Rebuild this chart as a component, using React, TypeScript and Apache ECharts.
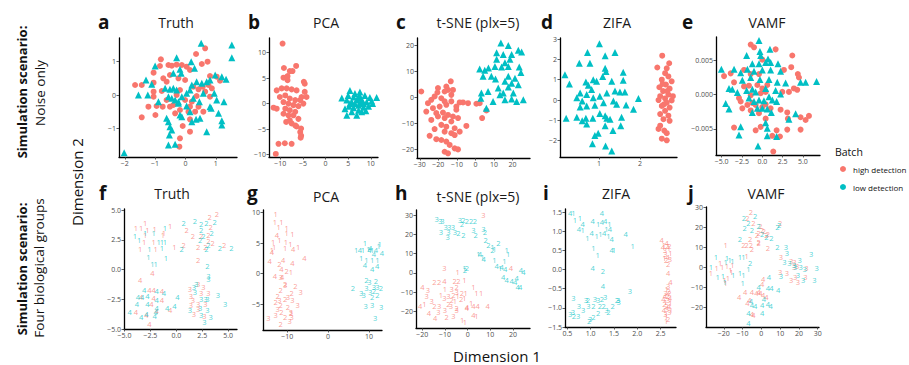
import React, { useEffect, useRef } from "react";
import * as echarts from "echarts";

const RED = "#F8766D";
const TEAL = "#00BFC4";
const RED_T = "rgba(248,118,109,0.9)";
const TEAL_T = "rgba(0,191,196,0.9)";
const FONT = '"Open Sans", "Noto Sans", sans-serif';

// ---------- Panel a: Truth (noise only) ----------
const aHigh = [[-0.81,1.07],[-0.84,0.87],[-0.56,0.9],[-0.45,0.88],[-0.29,0.91],[-0.12,0.9],[0.04,0.85],[0.15,0.75],[0.35,1.23],[0.65,1.4],[0.54,0.93],[0.73,1.0],[-1.05,0.67],[-0.73,0.5],[-1.05,0.37],[-1.66,0.3],[-1.44,0.3],[-1.05,0.1],[-1.05,-0.05],[-1.22,-0.35],[-0.95,-0.33],[-0.75,-0.35],[-1.44,-0.67],[-0.99,-0.6],[-0.62,0.4],[-0.51,0.6],[-0.23,0.5],[-0.01,0.45],[0.26,0.25],[0.43,0.17],[0.57,0.25],[0.76,0.3],[0.81,0.57],[1.03,0.55],[1.14,0.43],[0.87,0.2],[0.65,0.1],[0.81,-0.05],[0.37,-0.03],[0.21,-0.2],[-0.01,-0.15],[0.15,-0.35],[0.43,-0.35],[0.59,-0.5],[0.32,-0.5],[0.1,-0.5],[-0.18,-0.45],[-0.34,-0.55],[-0.51,-0.35],[-0.4,-0.3],[0.15,-0.73],[-0.09,-0.93],[0.15,-1.1],[-0.18,-1.3],[-0.2,-1.55],[-0.78,0.12],[-0.62,-0.15],[-0.29,0.0],[-0.18,0.15]];
const aLow = [[0.52,1.55],[1.53,1.5],[1.53,1.12],[-0.29,1.12],[0.19,1.0],[-1.0,0.87],[-0.18,0.77],[-0.4,0.65],[-0.14,0.65],[0.3,0.8],[-1.3,0.45],[-1.11,0.32],[-1.55,0.0],[-1.24,0.0],[-0.89,-0.2],[-0.67,0.2],[-0.51,0.17],[-0.4,0.2],[-0.29,0.15],[-0.56,-0.05],[-0.45,-0.1],[-0.34,-0.15],[-0.23,-0.2],[-0.12,-0.05],[0.04,0.05],[0.15,0.15],[0.21,0.3],[0.37,0.4],[0.54,0.35],[0.7,0.4],[0.81,0.45],[0.98,0.6],[1.2,0.55],[1.34,0.47],[0.95,0.05],[1.03,-0.15],[1.27,-0.2],[0.81,-0.35],[0.85,-0.4],[1.09,-0.55],[1.2,-0.77],[1.2,-0.9],[0.7,-1.1],[0.35,-0.73],[0.21,-0.8],[0.48,-0.7],[0.15,-0.5],[0.04,-0.33],[-0.18,-0.6],[-0.12,-0.65],[-0.62,-0.7],[-0.56,-0.8],[-0.51,-0.95],[-0.45,-1.05],[-0.53,-1.2],[-0.56,-1.5],[-0.34,-1.48],[-2.02,-1.73],[-0.23,-0.25],[0.26,-0.1],[0.46,-0.2],[0.59,0.05]];
const aXTicks = [-2, -1, 0, 1];
const aYTicks = [-1, 0, 1];

// ---------- Panel b: PCA (noise only) ----------
const bHigh = [[-9.5,11.8],[-9.2,7.0],[-6.5,7.4],[-7.9,6.4],[-7.3,6.4],[-9.3,5.1],[-8.4,5.4],[-8.4,4.6],[-4.8,4.3],[-4.6,3.9],[-10.8,2.6],[-9.7,3.0],[-8.6,3.0],[-7.5,2.8],[-6.4,2.6],[-4.6,2.3],[-4.2,1.3],[-5.3,1.3],[-5.6,0.7],[-8.9,1.6],[-10.1,1.3],[-7.9,1.0],[-6.7,0.7],[-9.3,0.3],[-8.2,0.0],[-7.1,-0.3],[-6.0,-0.5],[-4.9,0.0],[-11.5,-0.8],[-10.8,-1.0],[-8.9,-1.0],[-7.9,-1.3],[-6.7,-1.6],[-8.2,-2.3],[-7.1,-2.3],[-9.3,-2.0],[-6.0,-3.0],[-8.7,-3.6],[-7.5,-3.9],[-6.4,-4.5],[-5.4,-4.9],[-5.6,-5.6],[-5.4,-6.3],[-5.5,-6.7],[-10.4,-7.9],[-9.0,-7.8],[-7.5,-7.9],[-11.0,-9.9],[-7.9,-3.3],[-6.7,-4.3]];
const bLow = [[3.6,1.1],[5.4,2.6],[6.5,2.0],[7.6,2.3],[8.7,1.6],[9.8,1.2],[11.3,1.2],[4.7,0.7],[5.8,0.3],[6.9,0.7],[8.0,0.8],[9.1,0.3],[10.2,0.5],[5.2,-0.5],[6.2,-0.8],[7.3,-0.3],[8.4,-0.7],[9.5,-0.5],[4.7,-2.3],[5.8,-1.6],[6.9,-2.3],[8.0,-1.6],[8.9,-1.4],[4.3,-1.0],[7.6,1.4],[6.2,1.3],[10.4,0.0],[5.4,0.0],[6.5,0.0],[7.8,0.1],[5.0,1.6],[7.3,1.2],[8.4,0.0],[7.3,-1.3]];
const bXTicks = [-10, -5, 0, 5, 10];
const bYTicks = [-10, -5, 0, 5, 10];

// ---------- Panel c: t-SNE (noise only) ----------
const cHigh = [[-29.2,2.3],[-20.2,3.6],[-20.5,1.9],[-15.7,4.2],[-13.3,6.2],[-14.8,2.9],[-16.6,2.3],[-12.1,2.9],[-22.0,0.4],[-18.4,-0.3],[-23.8,-0.9],[-25.6,-2.2],[-26.5,-5.4],[-22.9,-4.1],[-19.3,-3.5],[-15.7,-2.8],[-13.0,-1.5],[-10.3,-3.5],[-8.5,-1.9],[-6.7,-1.9],[-4.0,-2.2],[0.5,-2.4],[2.3,-2.2],[5.9,-5.0],[3.6,-7.9],[-23.8,-8.6],[-20.2,-7.3],[-16.6,-7.9],[-14.8,-6.7],[-12.1,-7.3],[-9.4,-7.9],[-18.4,-10.5],[-22.0,-12.1],[-15.7,-11.2],[-13.0,-9.2],[-11.2,-11.8],[-4.9,-10.9],[-16.6,-13.1],[-13.0,-13.7],[-11.2,-14.4],[-24.7,-14.7],[-21.1,-16.0],[-18.4,-16.3],[-15.7,-16.9],[-13.9,-18.2],[-11.2,-19.5],[-9.4,-19.9],[-16.6,-20.8],[-14.8,-21.4],[-10.3,-4.7],[-17.5,-5.8],[-21.1,-6.0],[-13.0,1.0],[-16.6,-1.5],[-8.5,-13.1]];
const cLow = [[13.7,20.9],[17.7,19.9],[23.1,18.1],[24.9,17.4],[11.4,17.1],[15.0,16.5],[19.5,16.5],[18.6,14.7],[11.4,14.7],[10.5,11.9],[7.0,11.3],[2.3,10.9],[5.0,10.4],[14.1,11.7],[17.7,11.9],[23.6,11.7],[24.5,9.6],[4.1,8.1],[8.6,8.1],[10.8,7.1],[15.9,6.2],[19.5,5.5],[23.1,4.9],[17.7,4.0],[12.3,3.6],[6.8,2.3],[3.2,1.7],[2.9,-0.3],[15.0,1.7],[20.4,1.7],[25.8,-0.9],[9.5,-1.5],[15.9,-0.9],[19.5,-0.6],[5.9,-4.1],[22.2,-1.5],[13.2,1.0],[17.7,8.1],[21.3,7.4],[15.9,13.3]];
const cXTicks = [-30, -20, -10, 0, 10, 20];
const cYTicks = [-20, -10, 0, 10, 20];

// ---------- Panel d: ZIFA (noise only) ----------
const dHigh = [[2.54,2.18],[2.42,1.6],[2.71,1.81],[2.65,1.56],[2.61,1.32],[2.69,1.16],[2.53,1.0],[2.77,0.92],[2.47,0.63],[2.63,0.76],[2.72,0.56],[2.56,0.44],[2.69,0.27],[2.49,0.19],[2.61,0.08],[2.77,-0.02],[2.45,0.0],[2.65,-0.13],[2.53,-0.29],[2.72,-0.37],[2.61,-0.53],[2.49,-0.69],[2.69,-0.77],[2.57,-0.94],[2.72,-1.02],[2.49,-1.26],[2.45,-1.42],[2.59,-1.5],[2.65,-1.63],[2.53,-1.9],[2.65,-1.98],[2.8,0.19],[2.55,0.79],[2.66,0.44],[2.58,-0.21]];
const dLow = [[1.01,2.77],[0.72,2.34],[1.39,2.34],[0.52,1.81],[0.78,1.81],[1.15,2.18],[0.17,1.24],[0.28,0.79],[1.15,1.56],[1.17,1.4],[1.59,1.37],[0.86,1.0],[0.94,0.92],[0.68,0.89],[0.74,0.73],[1.09,1.16],[1.31,0.92],[1.59,0.97],[0.82,0.52],[0.54,0.35],[0.46,0.11],[0.59,-0.05],[0.7,0.27],[0.86,0.11],[1.02,0.19],[1.19,0.35],[1.39,0.44],[1.51,0.4],[1.63,0.4],[1.35,-0.05],[1.43,-0.21],[1.66,-0.24],[1.11,-0.13],[0.9,-0.26],[0.7,-0.29],[0.54,-0.34],[1.96,0.08],[1.84,-0.45],[0.2,-0.89],[0.46,-0.85],[0.59,-1.02],[0.7,-1.18],[0.68,-0.89],[0.85,-0.89],[1.15,-0.77],[1.19,-0.89],[1.27,-0.94],[1.55,-0.85],[1.53,-1.26],[1.15,-1.26],[1.02,-0.66],[1.34,-1.5],[0.9,-1.74],[0.98,-1.63],[0.84,-2.15],[1.16,-2.26],[1.31,-2.5]];
const dXTicks = [1, 2];
const dYTicks = [-2, -1, 0, 1, 2, 3];

// ---------- Panel e: VAMF (noise only) ----------
const eHigh = [[-1.43,0.0073],[-1.02,0.0069],[1.64,0.0066],[3.69,0.0057],[0.0,0.0051],[-2.25,0.0036],[-4.71,0.0027],[-3.89,0.0031],[-3.48,0.0018],[-1.43,0.003],[-0.41,0.003],[2.66,0.0036],[3.56,0.004],[4.37,0.003],[4.51,0.0025],[4.3,0.0007],[3.89,0.0009],[3.28,0.0004],[2.46,0.0004],[-2.25,0.0012],[-1.64,0.0013],[-0.61,0.0014],[0.0,0.0009],[0.41,0.0004],[-0.2,0.0002],[-2.87,-0.0005],[-2.66,-0.001],[-2.46,-0.002],[-1.84,-0.0015],[-1.43,-0.0023],[-1.23,-0.0012],[-0.82,-0.0015],[-0.41,-0.0027],[0.0,-0.0018],[0.41,-0.0014],[1.02,-0.002],[3.07,-0.0026],[3.15,-0.0035],[4.71,-0.0033],[5.33,-0.0037],[5.74,-0.0031],[4.71,-0.0051],[3.07,-0.0051],[1.76,-0.0052],[-3.48,-0.0048],[-0.82,-0.0052],[-0.2,-0.0047],[1.23,-0.006],[2.17,-0.0061],[1.35,-0.0083],[0.41,-0.0035],[2.25,-0.0022],[-1.43,-0.0001],[0.61,0.0014]];
const eLow = [[-0.41,0.0079],[-0.29,0.0063],[0.94,0.0066],[-1.93,0.0057],[-0.2,0.0057],[0.7,0.0052],[-1.23,0.0045],[-0.41,0.0045],[0.41,0.0047],[1.02,0.0047],[1.93,0.0045],[-5.04,0.0037],[-3.48,0.0037],[-2.66,0.0032],[-1.84,0.0037],[-1.02,0.0034],[0.0,0.0036],[1.02,0.0036],[2.25,0.0034],[4.71,0.0018],[5.33,0.0018],[6.68,0.0019],[-2.46,0.0021],[-1.43,0.0025],[-0.29,0.0022],[0.82,0.0022],[1.84,0.0018],[2.87,0.0017],[-4.1,0.0009],[-3.69,0.0008],[-3.07,0.0003],[-1.93,0.0006],[-1.23,0.0008],[-0.82,0.0004],[0.41,0.0009],[1.64,0.0006],[2.25,0.0001],[-4.51,-0.0013],[-4.1,-0.0021],[-1.64,-0.0005],[-1.02,-0.001],[-0.41,-0.0008],[0.2,-0.0009],[0.82,-0.0003],[1.23,-0.0008],[1.76,-0.001],[-0.61,-0.002],[0.0,-0.002],[0.61,-0.0021],[1.11,-0.0026],[-1.23,-0.0026],[4.1,-0.0028],[3.28,-0.0036],[0.41,-0.0041],[0.61,-0.0049],[0.61,-0.006],[-2.66,-0.0047],[-2.87,-0.0059],[1.76,-0.0061],[-0.53,-0.0075]];
const eXTicks = [-5, -2.5, 0, 2.5, 5];
const eYTicks = [-0.005, 0, 0.005];

// ---------- Panel f: Truth (four groups) [x, y, group] ----------
const fHigh = [[-3.0,3.9,1],[-3.4,3.5,1],[-2.8,3.3,1],[-2.1,3.4,1],[-1.2,3.1,1],[-0.6,3.7,1],[-3.1,2.3,1],[-2.2,2.3,1],[-3.5,1.7,1],[-2.0,1.7,1],[-3.9,3.5,1],[-1.3,2.9,1],[-0.2,1.9,1],[-3.0,2.9,1],
  [1.0,3.3,2],[1.6,2.8,2],[2.4,2.8,2],[3.1,2.9,2],[3.3,3.6,2],[3.9,4.7,2],[3.2,4.4,2],[0.7,2.1,2],[2.1,1.9,2],[2.8,1.9,2],[3.1,2.4,2],[3.5,2.2,2],[4.6,2.1,2],[2.1,0.8,2],
  [1.3,-1.6,3],[2.1,-1.2,3],[2.6,-1.5,3],[1.4,-2.2,3],[1.6,-2.6,3],[3.1,-2.0,3],[2.1,-2.9,3],[1.4,-3.0,3],[2.1,-3.3,3],[2.8,-2.9,3],[2.7,-3.9,3],[1.7,-3.7,3],[2.4,-2.0,3],
  [-2.3,-0.3,4],[-3.5,-0.9,4],[-2.6,-1.7,4],[-2.2,-1.7,4],[-1.4,-1.8,4],[-3.4,-2.3,4],[-2.2,-2.4,4],[-1.4,-2.6,4],[-0.6,-3.4,4],[-3.9,-3.6,4],[-2.9,-3.8,4],[-1.9,-3.5,4],[-2.6,-4.6,4],[-2.4,-2.9,4]];
const fLow = [[-4.0,2.8,1],[-3.6,2.5,1],[-3.0,3.1,1],[-2.2,3.1,1],[-1.7,2.3,1],[-1.4,2.3,1],[-1.1,3.5,1],[-1.1,2.3,1],[-2.6,1.7,1],[-1.4,1.8,1],[-2.7,1.1,1],[-2.3,0.5,1],[-2.0,0.5,1],[-1.0,1.0,1],
  [0.7,3.9,2],[1.8,4.1,2],[2.4,3.8,2],[2.9,3.9,2],[3.7,4.0,2],[2.4,3.3,2],[3.4,3.1,2],[2.3,2.5,2],[3.1,2.1,2],[2.9,1.7,2],[4.2,1.8,2],[5.3,1.8,2],[0.5,1.7,2],[3.0,0.3,2],[2.6,2.8,2],
  [1.9,-1.2,3],[3.1,-0.5,3],[3.1,-0.8,3],[1.7,-1.5,3],[1.8,-1.9,3],[2.4,-2.5,3],[2.8,-2.5,3],[3.0,-2.5,3],[4.0,-2.1,3],[4.7,-2.9,3],[1.3,-3.4,3],[2.3,-3.2,3],[3.0,-3.4,3],[2.4,-3.8,3],[3.3,-4.0,3],[2.7,-4.4,3],
  [-3.1,-1.7,4],[-3.7,-2.3,4],[-3.3,-2.3,4],[-2.8,-2.2,4],[-1.9,-1.8,4],[-1.2,-2.0,4],[0.1,-2.3,4],[-3.8,-2.9,4],[-2.8,-2.9,4],[-1.9,-2.6,4],[-1.9,-3.2,4],[-0.9,-3.2,4],[-0.2,-3.1,4],[-4.5,-3.6,4],[-3.4,-4.0,4],[-2.9,-3.7,4],[-2.0,-3.6,4],[-2.1,-3.9,4]];
const fXTicks = [-5, -2.5, 0, 2.5, 5];
const fYTicks = [-5, -2.5, 0, 2.5, 5];

// ---------- Panel g: PCA (four groups) ----------
const gHigh = [[-12.8,9.8,1],[-13.0,8.4,1],[-11.4,8.4,1],[-12.1,7.7,1],[-10.1,7.4,1],[-13.4,5.1,1],[-13.2,4.4,1],[-10.1,6.7,1],[-8.7,6.5,1],[-10.3,5.1,1],[-9.2,4.9,1],[-7.3,4.4,1],[-10.5,4.2,1],[-9.1,0.3,1],[-13.7,3.9,1],[-11.9,5.5,1],
  [-14.3,2.0,4],[-12.5,6.3,4],[-13.7,3.6,4],[-11.0,2.2,4],[-11.4,0.7,4],[-8.7,1.7,4],[-5.8,2.5,4],[-13.0,-0.4,4],[-8.5,4.0,4],[-11.2,-0.6,4],
  [-11.9,1.6,2],[-10.1,0.5,2],[-10.5,-1.7,2],[-8.0,-2.0,2],[-11.6,-2.7,2],[-12.3,-3.7,2],[-10.5,-4.2,2],[-8.9,-3.2,2],[-11.6,-5.1,2],[-12.8,-4.6,2],[-11.4,-6.2,2],[-10.5,-7.0,2],[-11.6,-8.3,2],[-9.1,-6.4,2],[-9.8,-5.5,2],
  [-11.6,-0.6,3],[-10.5,-1.9,3],[-6.7,-3.0,3],[-9.8,-3.8,3],[-8.7,-4.3,3],[-7.4,-5.1,3],[-11.9,-4.3,3],[-12.3,-5.7,3],[-9.1,-6.2,3],[-8.9,-7.0,3],[-14.6,-7.3,3],[-9.4,-7.7,3],[-12.8,-6.8,3]];
const gLow = [[9.0,5.0,1],[6.9,3.9,1],[8.5,3.9,1],[9.9,4.0,1],[10.8,3.9,1],[12.6,4.9,1],[13.5,4.9,1],[8.1,2.5,1],[9.4,2.2,1],[10.8,2.2,1],[12.1,2.3,1],[12.4,4.5,1],
  [7.8,3.9,4],[10.3,4.2,4],[11.7,3.8,4],[13.2,3.4,4],[11.2,3.2,4],[9.0,1.4,4],[10.8,0.7,4],[12.0,1.3,4],[10.1,3.8,4],
  [13.5,0.3,2],[6.1,-2.4,2],[11.7,-1.2,2],[9.4,-1.0,2],[12.9,-2.4,2],[14.4,-2.4,2],[10.8,-3.8,2],[12.1,-3.5,2],[13.5,-4.3,2],[11.2,-2.8,2],
  [9.4,-2.4,3],[8.1,-3.2,3],[8.7,-3.5,3],[11.2,-2.1,3],[10.8,-5.1,3],[13.0,-5.4,3],[9.2,-5.3,3],[11.5,-7.2,3],[10.3,-3.0,3],[13.5,-3.2,3],[12.1,-2.1,3],[10.1,-1.3,3]];
const gXTicks = [-10, 0, 10];
const gYTicks = [-5, 0, 5, 10];

// ---------- Panel h: t-SNE (four groups) ----------
const hHigh = [[6.9,30.0,3],[19.1,2.4,4],[-10.3,2.4,3],[-4.4,0.3,1],[-4.1,-4.1,2],[-5.8,-4.1,2],[-1.5,-3.6,1],[-14.7,-4.5,2],[-12.6,-5.0,2],[-10.3,-4.1,4],[-20.0,-7.4,4],[-17.6,-9.1,3],[-18.1,-12.2,3],[-21.0,-17.4,4],[-19.1,-16.0,1],[-15.9,-14.8,3],[-10.0,-8.4,1],[-7.1,-8.4,3],[-4.9,-9.7,3],[-2.6,-10.5,2],[-0.9,-10.5,1],[2.5,-7.4,1],[3.9,-10.2,1],[5.9,-10.2,1],[8.8,-17.1,4],[4.4,-17.1,4],[2.5,-17.1,4],[-0.4,-17.8,4],[1.5,-15.7,1],[2.5,-21.7,4],[3.9,-22.6,1],[-2.4,-24.3,1],[-1.2,-25.7,1],[-9.3,-22.9,2],[-6.3,-22.2,3],[-4.9,-19.5,3],[-14.4,-23.4,4],[-17.1,-20.9,4],[-12.9,-20.5,3],[-10.0,-19.1,3],[-10.3,-13.1,3],[-7.1,-14.0,2],[-8.5,-16.0,2],[-7.4,-17.4,3],[-4.9,-18.3,2],[-0.4,-18.3,4],[-4.4,-12.2,1],[-2.9,-13.6,2],[-11.8,-11.4,1],[-14.7,-17.1,2],[-12.6,-17.4,3],[-5.6,-14.8,1],[-1.5,-13.1,1],[-8.5,-12.2,3],[-6.3,-11.4,2],[-4.9,-7.4,2]];
const hLow = [[-13.7,27.8,3],[-12.2,27.1,3],[-11.2,27.1,3],[-9.7,24.0,3],[-8.2,24.0,3],[-11.8,21.4,3],[-8.5,21.4,3],[-8.8,18.4,3],[-3.4,27.4,3],[-5.6,21.4,3],[2.5,22.2,3],[6.9,22.6,3],[-6.5,24.0,3],
  [-1.9,27.4,2],[-0.4,27.1,2],[1.5,27.1,2],[3.2,27.1,2],[-2.6,25.3,2],[-4.1,20.5,2],[-1.9,19.7,2],[3.5,19.7,2],[7.6,21.4,2],[7.9,17.1,2],[9.1,14.5,2],[10.9,11.9,2],[13.5,15.7,2],[-0.4,2.4,2],[-1.2,1.6,2],
  [10.9,13.6,1],[11.8,12.2,1],[11.8,6.7,1],[17.2,11.9,1],[17.9,9.8,1],[6.5,8.4,1],[4.7,9.8,1],[16.2,5.9,1],[14.3,2.4,1],[-1.5,2.4,1],
  [5.4,9.8,4],[7.1,7.1,4],[12.8,3.3,4],[15.0,2.9,4],[16.5,1.9,4],[15.7,-1.9,4],[17.2,-3.6,4],[19.4,-4.0,4],[21.6,-2.8,4],[23.5,1.6,4],[24.6,0.7,4],[22.1,-7.4,4],[23.1,-7.1,4],[20.9,-4.5,4]];
const hXTicks = [-20, -10, 0, 10, 20];
const hYTicks = [-20, -10, 0, 10, 20, 30];

// ---------- Panel i: ZIFA (four groups) ----------
const iHigh = [[2.52,0.77,4],[2.57,0.65,1],[2.63,0.7,4],[2.69,0.61,2],[2.59,0.52,3],[2.71,0.44,1],[2.65,0.33,4],[2.62,0.24,2],[2.6,0.4,3],[2.68,0.55,1],[2.55,0.58,4],[2.66,-0.09,4],[2.71,-0.33,4],[2.66,-0.44,3],[2.63,-0.52,1],[2.69,-0.61,2],[2.59,-0.7,4],[2.66,-0.79,3],[2.71,-0.87,1],[2.63,-0.96,2],[2.57,-1.05,4],[2.69,-1.12,3],[2.62,-1.2,1],[2.66,-1.29,2],[2.6,-0.6,3],[2.65,-0.68,2],[2.61,-0.85,1],[2.68,-0.95,4],[2.64,-1.02,3],[2.58,-0.9,2],[2.7,-0.75,4],[2.62,-1.35,1],[2.67,-0.55,2],[2.6,-1.15,3],[2.72,-1.05,1],[2.56,-0.78,4],[2.64,0.62,2],[2.58,0.3,1],[2.7,0.28,3],[2.66,0.15,2]];
const iLow = [[0.56,1.48,4],[0.63,1.48,1],[0.66,1.29,1],[0.77,1.35,1],[0.83,1.2,4],[0.75,1.06,4],[0.83,1.03,1],[1.04,1.27,4],[1.24,1.47,4],[1.16,1.18,1],[1.24,1.24,4],[1.31,1.27,4],[1.4,1.2,1],[1.34,1.06,1],[1.29,0.96,4],[1.21,0.92,1],[1.13,0.87,1],[1.02,0.96,4],[0.93,0.83,1],[1.41,1.05,4],[1.45,0.8,4],[1.38,0.87,1],[1.75,0.94,4],[1.9,0.61,1],[1.06,0.57,1],[1.15,0.37,1],[1.45,0.51,4],[1.5,0.51,1],[1.04,0.04,4],[1.26,-0.04,2],[1.26,-0.42,4],
  [1.31,-0.72,3],[1.59,-0.8,3],[1.6,-0.85,3],[1.84,-0.57,3],[0.63,-0.74,3],[0.75,-0.94,3],[0.56,-1.15,3],[0.64,-1.2,2],[0.73,-1.2,3],[0.84,-1.05,3],[0.95,-0.96,3],[0.94,-0.8,2],[1.09,-0.77,3],[1.16,-0.79,3],[1.24,-0.77,2],[1.06,-0.96,2],[1.2,-0.94,2],[1.34,-1.06,3],[1.06,-1.24,2],[1.38,-1.12,2],[1.47,-0.94,2],[1.56,-0.8,2],[0.97,-1.35,2],[0.99,-1.29,3],[1.16,-1.13,2],[0.9,-0.79,3],[1.28,-0.94,2],[0.62,-1.1,3]];
const iXTicks = [0.5, 1.0, 1.5, 2.0, 2.5];
const iYTicks = [-1.5, -1.0, -0.5, 0, 0.5, 1.0, 1.5];

// ---------- Panel j: VAMF (four groups) ----------
const jHigh = [[-5.6,27.5,2],[-7.5,24.5,2],[-4.2,22.0,2],[-0.5,20.7,2],[0.4,18.7,2],[-1.5,17.3,2],[2.7,16.2,2],[3.5,16.7,2],[-1.5,12.8,2],[-9.6,11.2,2],[-7.8,11.2,2],[-5.6,11.2,2],[-5.1,9.0,2],[3.5,9.5,2],[10.0,22.0,2],[-6.0,14.0,2],[-2.4,16.2,2],[1.3,18.3,2],[-1.5,12.0,2],
  [-19.1,11.2,1],[-7.8,5.7,1],[-22.0,2.3,1],[-23.8,-0.5,1],[-26.9,-3.0,1],[-20.9,0.0,1],[-18.4,0.7,1],[-16.5,-1.3,1],[-15.5,1.2,1],[-17.8,-5.5,1],[-19.6,-6.3,1],[-19.1,-8.0,1],[-16.0,-2.2,1],
  [10.4,5.0,3],[15.8,3.2,3],[19.1,0.7,3],[17.5,0.0,3],[10.0,-2.2,3],[13.6,-3.0,3],[18.0,-4.7,3],[15.8,-6.3,3],[19.5,-7.2,3],[24.0,-0.5,3],[23.5,-4.7,3],[17.6,2.8,3],
  [0.9,-6.0,4],[0.4,-8.3,4],[-8.7,-12.2,4],[-11.8,-14.7,4],[-5.1,-12.2,4],[-2.7,-13.0,4],[-0.5,-12.7,4],[0.9,-13.8,4],[2.7,-14.7,4],[-7.5,-17.7,4],[-5.1,-23.3,4],[-4.2,-23.8,4],[-1.5,-12.2,4],[-6.4,-16.3,4]];
const jLow = [[-9.3,24.5,2],[-6.9,22.0,2],[-8.9,19.8,2],[-5.1,18.7,2],[-1.5,20.3,2],[-3.3,25.7,2],[0.4,16.7,2],[2.7,15.3,2],[5.3,14.5,2],[-11.5,14.0,2],[-6.0,2.0,2],[8.5,20.0,2],[9.5,21.2,2],[8.5,10.0,2],
  [-24.2,5.0,1],[-18.4,4.5,1],[-16.9,3.7,1],[-15.5,3.3,1],[-11.5,5.3,1],[-20.5,-4.3,1],[-23.3,-4.7,1],[-19.1,2.8,1],[-11.5,-3.0,1],[-9.6,-3.8,1],[-6.9,-1.0,1],[-15.1,-3.8,1],[-10.0,-8.0,1],[-26.9,0.0,1],[-19.6,-7.2,1],[-9.6,5.3,1],
  [13.1,10.0,3],[13.6,7.3,3],[26.5,6.7,3],[12.2,2.8,3],[14.9,2.0,3],[17.3,1.2,3],[20.4,3.7,3],[20.9,0.0,3],[23.1,-1.0,3],[29.5,-0.5,3],[10.4,-4.3,3],[19.5,-3.8,3],[22.2,-6.3,3],[28.2,-6.3,3],[18.0,0.3,3],
  [4.0,-5.0,4],[-1.5,-9.7,4],[3.5,-10.5,4],[5.3,-10.5,4],[8.9,-11.3,4],[-5.6,-16.7,4],[-5.1,-18.8,4],[1.3,-16.0,4],[0.4,-18.8,4],[3.5,-18.3,4],[4.9,-19.3,4],[-6.9,-22.7,4],[0.4,-22.7,4],[-6.9,-27.7,4],[-3.3,-19.3,4]];
const jXTicks = [-20, -10, 0, 10, 20, 30];
const jYTicks = [-20, -10, 0, 10, 20, 30];

const batchNames = ["high detection", "low detection"];
const panelTitles = ["Truth", "PCA", "t-SNE (plx=5)", "ZIFA", "VAMF", "Truth", "PCA", "t-SNE (plx=5)", "ZIFA", "VAMF"];
const panelLetters = ["a", "b", "c", "d", "e", "f", "g", "h", "i", "j"];

// layout: [left, top, width, height], x range, y range, decimals
const layout = [
  { box: [119, 38, 118, 119], x: [-2.19, 1.7], y: [-1.86, 1.71], xd: 0, yd: 0, xt: aXTicks, yt: aYTicks, hi: aHigh, lo: aLow, title: [176, 22], letter: [98, 22] },
  { box: [269, 38, 109, 119], x: [-12.5, 11.6], y: [-10.5, 12.9], xd: 0, yd: 0, xt: bXTicks, yt: bYTicks, hi: bHigh, lo: bLow, title: [326, 22], letter: [248, 22] },
  { box: [417, 38, 113, 120], x: [-31.5, 29.4], y: [-23.2, 22.8], xd: 0, yd: 0, xt: cXTicks, yt: cYTicks, hi: cHigh, lo: cLow, title: [478, 22], letter: [396, 22] },
  { box: [560, 38, 117, 119], x: [0.05, 2.9], y: [-2.8, 3.05], xd: 0, yd: 0, xt: dXTicks, yt: dYTicks, hi: dHigh, lo: dLow, title: [617, 22], letter: [541, 22] },
  { box: [716, 37, 104, 118], x: [-5.7, 7.1], y: [-0.0088, 0.0084], xd: 1, yd: 3, xt: eXTicks, yt: eYTicks, hi: eHigh, lo: eLow, title: [767, 22], letter: [682, 22] },
  { box: [124, 209, 113, 120], x: [-5.05, 5.85], y: [-5.0, 5.1], xd: 1, yd: 1, xt: fXTicks, yt: fYTicks, hi: fHigh, lo: fLow, title: [172, 193], letter: [99, 193] },
  { box: [263, 210, 119, 120], x: [-15.9, 13.2], y: [-9.2, 10.4], xd: 0, yd: 0, xt: gXTicks, yt: gYTicks, hi: gHigh, lo: gLow, title: [326, 196], letter: [247, 193] },
  { box: [416, 210, 114, 118], x: [-22.8, 27.5], y: [-28.6, 32.6], xd: 0, yd: 0, xt: hXTicks, yt: hYTicks, hi: hHigh, lo: hLow, title: [478, 196], letter: [395, 193] },
  { box: [565, 209, 111, 118], x: [0.45, 2.83], y: [-1.5, 1.58], xd: 1, yd: 1, xt: iXTicks, yt: iYTicks, hi: iHigh, lo: iLow, title: [616, 193], letter: [543, 193] },
  { box: [706, 207, 113, 120], x: [-29.5, 30.7], y: [-29.7, 30.0], xd: 0, yd: 0, xt: jXTicks, yt: jYTicks, hi: jHigh, lo: jLow, title: [766, 193], letter: [688, 193] },
];

const fmt = (d: number) => (v: number) => {
  const s = Math.abs(v).toFixed(d);
  return (v < -1e-12 ? "\u2212" : "") + s;
};

function buildOption() {
  const grid: any[] = [];
  const xAxis: any[] = [];
  const yAxis: any[] = [];
  const series: any[] = [];
  const graphic: any[] = [];

  const axisCommon = (ticks: number[], d: number) => ({
    type: "value",
    axisLine: { show: true, onZero: false, lineStyle: { color: "#000", width: 1.3 } },
    axisTick: { show: true, length: 2.5, customValues: ticks, lineStyle: { color: "#333", width: 0.8 } },
    axisLabel: { customValues: ticks, formatter: fmt(d), fontSize: 7, color: "#4D4D4D", margin: 3, fontFamily: FONT },
    splitLine: { show: false },
  });

  layout.forEach((p, i) => {
    const [l, t, w, h] = p.box;
    grid.push({ left: l, top: t, width: w, height: h, containLabel: false });
    xAxis.push({ ...axisCommon(p.xt, p.xd), gridIndex: i, min: p.x[0], max: p.x[1] });
    yAxis.push({ ...axisCommon(p.yt, p.yd), gridIndex: i, min: p.y[0], max: p.y[1] });

    if (i < 5) {
      series.push({
        type: "scatter", name: batchNames[0], xAxisIndex: i, yAxisIndex: i, data: p.hi,
        symbol: "circle", symbolSize: 6, itemStyle: { color: RED, opacity: 1 }, silent: true,
      });
      series.push({
        type: "scatter", name: batchNames[1], xAxisIndex: i, yAxisIndex: i, data: p.lo,
        symbol: "triangle", symbolSize: 7, itemStyle: { color: TEAL, opacity: 1 }, silent: true,
      });
    } else {
      [[p.hi, RED_T, batchNames[0]], [p.lo, TEAL_T, batchNames[1]]].forEach(([data, col, nm]: any) => {
        series.push({
          type: "scatter", name: nm, xAxisIndex: i, yAxisIndex: i, data,
          symbol: "circle", symbolSize: 1, itemStyle: { color: "transparent" }, silent: true,
          label: {
            show: true, position: "inside", formatter: (q: any) => String(q.value[2]),
            color: col, fontSize: 7.5, fontFamily: FONT,
          },
        });
      });
    }

    graphic.push({
      type: "text", x: p.title[0], y: p.title[1],
      style: { text: panelTitles[i], fill: "#1a1a1a", font: `14px ${FONT}`, textAlign: "center", textVerticalAlign: "middle" },
    });
    graphic.push({
      type: "text", x: p.letter[0], y: p.letter[1],
      style: { text: panelLetters[i], fill: "#111", font: `bold 19px ${FONT}`, textAlign: "left", textVerticalAlign: "middle" },
    });
  });

  // row labels
  const rowText = (x: number, y: number, text: string, bold: boolean, size: number) => ({
    type: "text", x, y, rotation: Math.PI / 2,
    style: { text, fill: "#111", font: `${bold ? "bold " : ""}${size}px ${FONT}`, textAlign: "center", textVerticalAlign: "middle" },
  });
  graphic.push(rowText(22, 92, "Simulation scenario:", true, 13));
  graphic.push(rowText(40, 93, "Noise only", false, 13.5));
  graphic.push(rowText(22, 269, "Simulation scenario:", true, 13));
  graphic.push(rowText(39, 268, "Four biological groups", false, 13.5));
  graphic.push(rowText(77, 182, "Dimension 2", false, 15));
  graphic.push({
    type: "text", x: 497, y: 356,
    style: { text: "Dimension 1", fill: "#111", font: `15px ${FONT}`, textAlign: "center", textVerticalAlign: "middle" },
  });

  // legend
  graphic.push({ type: "text", x: 835, y: 152, style: { text: "Batch", fill: "#111", font: `10.5px ${FONT}`, textAlign: "left", textVerticalAlign: "middle" } });
  graphic.push({ type: "circle", shape: { cx: 843, cy: 169, r: 3 }, style: { fill: RED } });
  graphic.push({ type: "circle", shape: { cx: 843, cy: 187, r: 3 }, style: { fill: TEAL } });
  graphic.push({ type: "text", x: 853, y: 169, style: { text: batchNames[0], fill: "#111", font: `8px ${FONT}`, textAlign: "left", textVerticalAlign: "middle" } });
  graphic.push({ type: "text", x: 853, y: 187, style: { text: batchNames[1], fill: "#111", font: `8px ${FONT}`, textAlign: "left", textVerticalAlign: "middle" } });

  return { animation: false, backgroundColor: "#fff", grid, xAxis, yAxis, series, graphic };
}

export default function App() {
  const ref = useRef<HTMLDivElement>(null);
  useEffect(() => {
    if (!ref.current) return;
    const chart = echarts.init(ref.current, undefined, { renderer: "svg" });
    chart.setOption(buildOption() as any);
    return () => chart.dispose();
  }, []);
  return <div ref={ref} style={{ position: "absolute", left: 0, top: 0, width: 909, height: 365 }} />;
}
